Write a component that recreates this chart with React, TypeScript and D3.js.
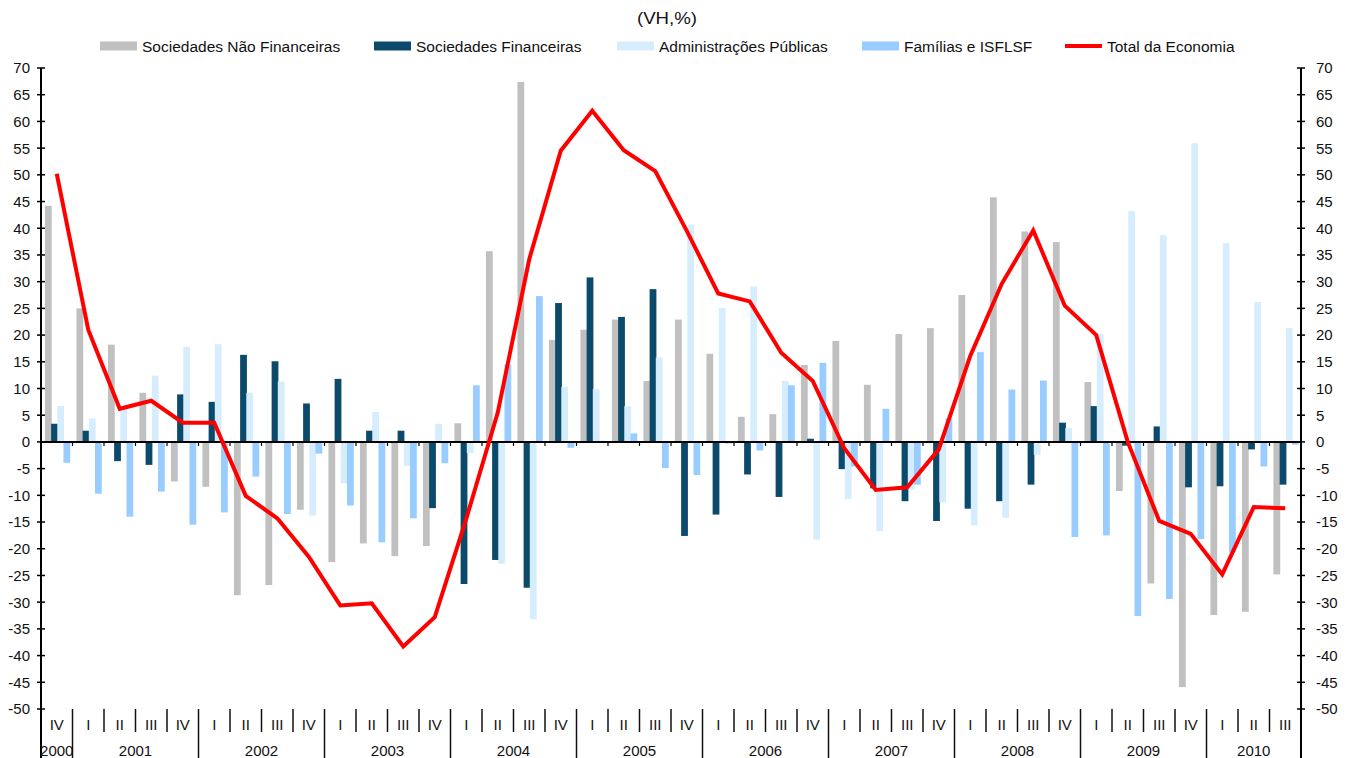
import * as d3 from "d3";
import React, { useEffect, useRef } from "react";

// quarter labels, 2000 IV .. 2010 III
const quarters = [
  "IV",
  "I", "II", "III", "IV",
  "I", "II", "III", "IV",
  "I", "II", "III", "IV",
  "I", "II", "III", "IV",
  "I", "II", "III", "IV",
  "I", "II", "III", "IV",
  "I", "II", "III", "IV",
  "I", "II", "III", "IV",
  "I", "II", "III", "IV",
  "I", "II", "III",
];
const years = ["2000", "2001", "2002", "2003", "2004", "2005", "2006", "2007", "2008", "2009", "2010"];
const quartersPerYear = [1, 4, 4, 4, 4, 4, 4, 4, 4, 4, 3];

// Sociedades Não Financeiras
const snf = [
  44.2, 25.0, 18.2, 9.2, -7.4, -8.4, -28.7, -26.8, -12.7, -22.5, -19.0, -21.4, -19.5,
  3.5, 35.7, 67.4, 19.1, 21.0, 22.9, 11.4, 22.9, 16.5, 4.7, 5.2, 14.4, 18.9,
  10.7, 20.2, 21.3, 27.5, 45.8, 39.4, 37.4, 11.2, -9.2, -26.5, -45.9, -32.4, -31.8, -24.8,
];
// Sociedades Financeiras
const sf = [
  3.4, 2.1, -3.6, -4.3, 8.9, 7.5, 16.3, 15.1, 7.2, 11.8, 2.1, 2.1, -12.4,
  -26.6, -22.1, -27.3, 26.0, 30.8, 23.4, 28.6, -17.6, -13.6, -6.1, -10.3, 0.6, -5.1,
  -8.7, -11.1, -14.8, -12.5, -11.1, -8.0, 3.6, 6.7, -0.7, 2.9, -8.5, -8.3, -1.4, -8.0,
];
// Administrações Públicas
const ap = [
  6.7, 4.4, 6.3, 12.4, 17.8, 18.3, 9.2, 11.3, -13.8, -7.7, 5.6, -4.5, 3.4,
  -2.1, -22.8, -33.2, 10.3, 9.9, 6.7, 15.8, 40.7, 25.1, 29.1, 11.4, -18.3, -10.7,
  -16.7, -8.9, -11.3, -15.6, -14.2, -2.4, 2.6, 20.2, 43.2, 38.7, 55.9, 37.2, 26.2, 21.3,
];
// Famílias e ISFLSF
const fam = [
  -3.9, -9.7, -14.0, -9.3, -15.5, -13.2, -6.5, -13.5, -2.2, -11.9, -18.8, -14.3, -4.0,
  10.6, 14.5, 27.3, -1.1, 0.2, 1.6, -4.9, -6.2, -0.3, -1.6, 10.6, 14.8, -4.6,
  6.2, -8.0, 4.4, 16.8, 9.8, 11.5, -17.8, -17.5, -32.6, -29.4, -18.2, -20.7, -4.6, -0.5,
];
// Total da Economia
const total = [
  50.2, 21.0, 6.2, 7.7, 3.6, 3.6, -10.1, -14.3, -21.5, -30.6, -30.2, -38.3, -32.8,
  -14.4, 5.5, 34.2, 54.5, 62.0, 54.6, 50.7, 39.5, 27.8, 26.3, 16.7, 11.4, -1.2,
  -9.0, -8.5, -1.4, 16.1, 29.6, 39.6, 25.5, 20.0, 0.0, -14.8, -17.2, -24.8, -12.2, -12.4,
];

const barSeries = [
  { name: "Sociedades Não Financeiras", values: snf, color: "#C0C0C0" },
  { name: "Sociedades Financeiras", values: sf, color: "#0C4A6B" },
  { name: "Administrações Públicas", values: ap, color: "#D5EDFC" },
  { name: "Famílias e ISFLSF", values: fam, color: "#99CCFF" },
];
const lineName = "Total da Economia";
const lineColor = "#FF0000";

const W = 1352;
const H = 758;
const FONT = "'Liberation Sans', Arial, sans-serif";

const App = () => {
  const ref = useRef<SVGSVGElement | null>(null);

  useEffect(() => {
    if (!ref.current) return;
    const svg = d3.select(ref.current);
    svg.selectAll("*").remove();

    const left = 41, right = 1301, top = 68, bottom = 709;
    const n = quarters.length;

    const x = d3.scaleBand<number>().domain(d3.range(n)).range([left, right]).padding(0);
    const bw = x.bandwidth();
    const sub = d3.scaleBand<number>().domain([0, 1, 2, 3]).range([bw * 0.125, bw * 0.91]).padding(0);
    const y = d3.scaleLinear().domain([-50, 70]).range([bottom, top]);

    svg.append("rect").attr("width", W).attr("height", H).attr("fill", "#fff");

    // bars
    barSeries.forEach((s, si) => {
      svg.append("g")
        .selectAll("rect")
        .data(s.values)
        .enter()
        .append("rect")
        .attr("x", (d, i) => (x(i) as number) + (sub(si) as number))
        .attr("y", d => y(Math.max(0, d)))
        .attr("width", sub.bandwidth() + 0.6)
        .attr("height", d => Math.abs(y(d) - y(0)))
        .attr("fill", s.color);
    });

    // zero line + category ticks
    svg.append("line")
      .attr("x1", left).attr("x2", right)
      .attr("y1", y(0)).attr("y2", y(0))
      .attr("stroke", "#000").attr("stroke-width", 2);
    svg.append("g")
      .selectAll("line")
      .data(d3.range(1, n))
      .enter()
      .append("line")
      .attr("x1", i => x(i) as number).attr("x2", i => x(i) as number)
      .attr("y1", y(0)).attr("y2", y(0) + 4)
      .attr("stroke", "#000").attr("stroke-width", 1.2);

    // total line
    const line = d3.line<number>()
      .x((d, i) => (x(i) as number) + bw / 2)
      .y(d => y(d));
    svg.append("path")
      .datum(total)
      .attr("d", line)
      .attr("fill", "none")
      .attr("stroke", lineColor)
      .attr("stroke-width", 4)
      .attr("stroke-linejoin", "miter");

    // value axes
    const ticks = d3.range(-50, 71, 5);
    [left, right].forEach((ax, side) => {
      svg.append("line")
        .attr("x1", ax).attr("x2", ax)
        .attr("y1", top).attr("y2", H)
        .attr("stroke", "#000").attr("stroke-width", 2);
      const g = svg.append("g");
      g.selectAll("line")
        .data(ticks)
        .enter()
        .append("line")
        .attr("x1", ax - 4).attr("x2", ax + 4)
        .attr("y1", d => y(d)).attr("y2", d => y(d))
        .attr("stroke", "#000").attr("stroke-width", 1.5);
      g.selectAll("text")
        .data(ticks)
        .enter()
        .append("text")
        .attr("x", side === 0 ? ax - 11 : ax + 15)
        .attr("y", d => y(d))
        .attr("dy", "0.36em")
        .attr("text-anchor", side === 0 ? "end" : "start")
        .attr("font-family", FONT)
        .attr("font-size", 15)
        .attr("fill", "#111")
        .text(d => d);
    });

    // category labels
    const yearStart = quartersPerYear.map((c, i) => d3.sum(quartersPerYear.slice(0, i)));
    const yearBounds = new Set(yearStart);
    svg.append("g")
      .selectAll("line")
      .data(d3.range(1, n))
      .enter()
      .append("line")
      .attr("x1", i => x(i) as number).attr("x2", i => x(i) as number)
      .attr("y1", bottom).attr("y2", i => (yearBounds.has(i) ? H : bottom + 23))
      .attr("stroke", "#111").attr("stroke-width", 1.5);
    svg.append("g")
      .selectAll("text")
      .data(quarters)
      .enter()
      .append("text")
      .attr("x", (d, i) => (x(i) as number) + bw / 2)
      .attr("y", bottom + 21)
      .attr("text-anchor", "middle")
      .attr("font-family", FONT)
      .attr("font-size", 15)
      .attr("fill", "#111")
      .text(d => d);
    svg.append("g")
      .selectAll("text")
      .data(years)
      .enter()
      .append("text")
      .attr("x", (d, i) => {
        const a = x(yearStart[i]) as number;
        const b = (x(yearStart[i] + quartersPerYear[i] - 1) as number) + bw;
        return (a + b) / 2;
      })
      .attr("y", bottom + 47)
      .attr("text-anchor", "middle")
      .attr("font-family", FONT)
      .attr("font-size", 15)
      .attr("fill", "#111")
      .text(d => d);

    // title
    svg.append("text")
      .attr("x", 667).attr("y", 24)
      .attr("text-anchor", "middle")
      .attr("font-family", FONT)
      .attr("font-size", 16)
      .attr("textLength", 60)
      .attr("lengthAdjust", "spacingAndGlyphs")
      .attr("fill", "#111")
      .text("(VH,%)");

    // legend
    const legendX = [100, 374, 617, 862, 1065];
    const legendItems = [...barSeries.map(s => ({ name: s.name, color: s.color, line: false })), { name: lineName, color: lineColor, line: true }];
    legendItems.forEach((it, i) => {
      const g = svg.append("g").attr("transform", `translate(${legendX[i]},46)`);
      if (it.line) {
        g.append("line").attr("x1", 0).attr("x2", 37).attr("y1", 0).attr("y2", 0)
          .attr("stroke", it.color).attr("stroke-width", 4);
      } else {
        g.append("rect").attr("x", 0).attr("y", -4.5).attr("width", 37).attr("height", 9).attr("fill", it.color);
      }
      g.append("text")
        .attr("x", 42).attr("y", 0).attr("dy", "0.36em")
        .attr("font-family", FONT)
        .attr("font-size", 15.5)
        .attr("fill", "#111")
        .text(it.name);
    });
  }, []);

  return (
    <div style={{ position: "absolute", left: 0, top: 0 }}>
      <svg ref={ref} width={W} height={H} style={{ display: "block" }}></svg>
    </div>
  );
};

export default App;
